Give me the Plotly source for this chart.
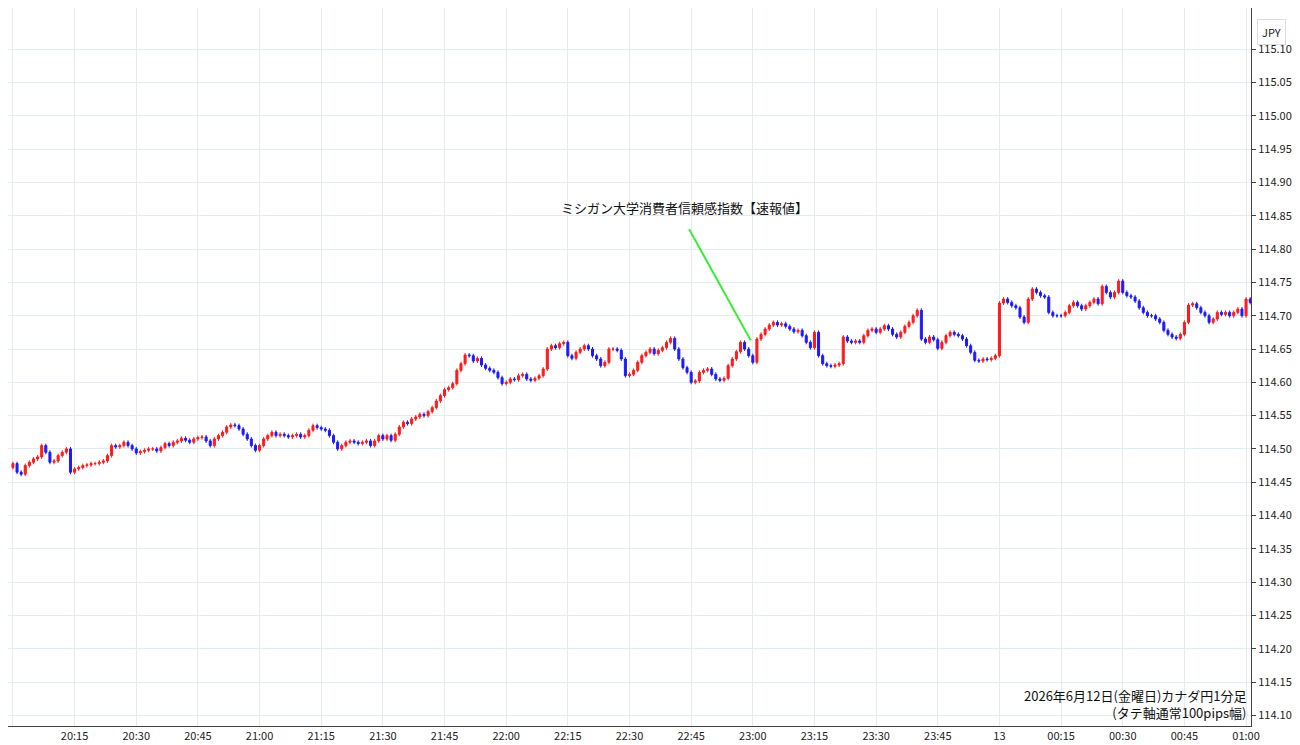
import plotly.graph_objects as go
import pandas as pd

closes = [
 # 20:00
 114.478,114.465,114.462,114.475,114.480,114.485,114.488,114.505,114.495,114.480,114.482,114.490,114.495,114.500,114.465,
 # 20:15
 114.470,114.472,114.475,114.476,114.478,114.478,114.480,114.482,114.490,114.505,114.503,114.505,114.510,114.505,114.500,
 # 20:30
 114.494,114.496,114.498,114.500,114.500,114.497,114.502,114.508,114.505,114.510,114.512,114.516,114.513,114.510,114.515,
 # 20:45
 114.517,114.518,114.512,114.505,114.515,114.520,114.525,114.533,114.536,114.535,114.530,114.522,114.515,114.505,114.498,
 # 21:00
 114.505,114.515,114.520,114.525,114.520,114.522,114.520,114.518,114.520,114.522,114.518,114.520,114.528,114.535,114.532,
 # 21:15
 114.530,114.528,114.520,114.510,114.500,114.505,114.510,114.512,114.510,114.508,114.510,114.512,114.505,114.512,114.520,
 # 21:30
 114.515,114.520,114.513,114.522,114.533,114.540,114.538,114.545,114.548,114.552,114.550,114.556,114.562,114.572,114.580,
 # 21:45
 114.589,114.592,114.598,114.618,114.628,114.641,114.640,114.632,114.636,114.626,114.621,114.618,114.615,114.607,114.598,
 # 22:00
 114.600,114.605,114.604,114.610,114.612,114.605,114.603,114.606,114.610,114.620,114.650,114.655,114.652,114.658,114.660,
 # 22:15
 114.640,114.636,114.645,114.650,114.655,114.650,114.640,114.635,114.625,114.630,114.650,114.650,114.648,114.635,114.610,
 # 22:30
 114.612,114.618,114.630,114.640,114.645,114.650,114.643,114.648,114.652,114.660,114.666,114.650,114.635,114.622,114.615,
 # 22:45
 114.600,114.602,114.615,114.618,114.620,114.612,114.605,114.603,114.606,114.625,114.635,114.646,114.660,114.650,114.640,
 # 23:00
 114.630,114.665,114.672,114.680,114.686,114.690,114.686,114.688,114.684,114.680,114.676,114.678,114.670,114.660,114.652,
 # 23:15
 114.675,114.640,114.628,114.625,114.624,114.626,114.628,114.668,114.662,114.660,114.662,114.660,114.670,114.678,114.680,
 # 23:30
 114.675,114.680,114.685,114.680,114.672,114.668,114.675,114.684,114.690,114.700,114.708,114.665,114.660,114.668,114.664,
 # 23:45
 114.651,114.660,114.670,114.675,114.672,114.670,114.665,114.655,114.645,114.633,114.632,114.635,114.634,114.636,114.640,
 # 00:00
 114.719,114.725,114.720,114.715,114.712,114.698,114.690,114.725,114.740,114.735,114.730,114.728,114.705,114.700,114.700,
 # 00:15
 114.700,114.705,114.715,114.720,114.715,114.710,114.715,114.720,114.725,114.718,114.744,114.735,114.728,114.735,114.752,
 # 00:30
 114.735,114.730,114.728,114.722,114.712,114.705,114.700,114.700,114.695,114.690,114.678,114.672,114.668,114.666,114.672,
 # 00:45
 114.690,114.716,114.718,114.712,114.705,114.700,114.690,114.695,114.705,114.702,114.705,114.700,114.705,114.710,114.700,
 # 01:00
 114.725,114.720,
]

start = pd.Timestamp("2026-06-12 20:00")
times = [start + pd.Timedelta(minutes=i) for i in range(len(closes))]
opens = [114.472] + closes[:-1]
highs = [max(o, c) + 0.003 for o, c in zip(opens, closes)]
lows = [min(o, c) - 0.003 for o, c in zip(opens, closes)]

tick_times = [start + pd.Timedelta(minutes=15 * i) for i in range(21)]
tick_text = [t.strftime("%H:%M") if t.strftime("%H:%M") != "00:00" else "13" for t in tick_times]
y_ticks = [round(114.10 + 0.05 * i, 3) for i in range(21)]
y_text = [f"{v:.3f}" for v in y_ticks]

fig = go.Figure(go.Candlestick(
    x=times, open=opens, high=highs, low=lows, close=closes,
    increasing=dict(line=dict(color="#ff1a1a", width=1), fillcolor="#ff1a1a"),
    decreasing=dict(line=dict(color="#1a1aff", width=1), fillcolor="#1a1aff"),
    whiskerwidth=0, showlegend=False,
))

ann_time = start + pd.Timedelta(minutes=164.5)
fig.add_shape(type="line", x0=ann_time, y0=114.83,
              x1=start + pd.Timedelta(minutes=179.5), y1=114.663,
              line=dict(color="#33ee33", width=2))
fig.add_annotation(x=start + pd.Timedelta(minutes=163.5), y=114.862,
                   text="ミシガン大学消費者信頼感指数【速報値】",
                   showarrow=False, font=dict(size=13, color="#111",
                   family="Noto Sans CJK JP"))
fig.add_annotation(xref="paper", yref="paper", x=0.998, y=0.003, xanchor="right",
                   yanchor="bottom", align="right", showarrow=False,
                   text="2026年6月12日(金曜日)カナダ円1分足<br>(タテ軸通常100pips幅)",
                   font=dict(size=13, color="#111", family="Noto Sans CJK JP"))
fig.add_annotation(xref="paper", yref="paper", x=1.0, y=0.985, xanchor="left",
                   xshift=6, showarrow=False, text="JPY",
                   font=dict(size=11, color="#222"), bordercolor="#dddddd",
                   borderwidth=1, borderpad=4, bgcolor="white")

fig.update_layout(
    width=1300, height=745, paper_bgcolor="white", plot_bgcolor="white",
    margin=dict(l=0, r=57, t=0, b=27, autoexpand=False),
    font=dict(family="Noto Sans CJK JP", size=11, color="#222"),
    xaxis=dict(type="date", rangeslider=dict(visible=False),
               range=[start - pd.Timedelta(minutes=1.2), start + pd.Timedelta(minutes=301.2)],
               tickvals=tick_times, ticktext=tick_text, showgrid=True,
               gridcolor="#e3ecf0", showline=True, linecolor="#444", ticks="",
               automargin=False),
    yaxis=dict(side="right", range=[114.084, 115.162], tickvals=y_ticks,
               ticktext=y_text, showgrid=True, gridcolor="#e3ecf0",
               showline=True, linecolor="#444", ticks="outside", ticklen=4,
               tickcolor="#444", automargin=False),
)
fig.write_html("out.html")
